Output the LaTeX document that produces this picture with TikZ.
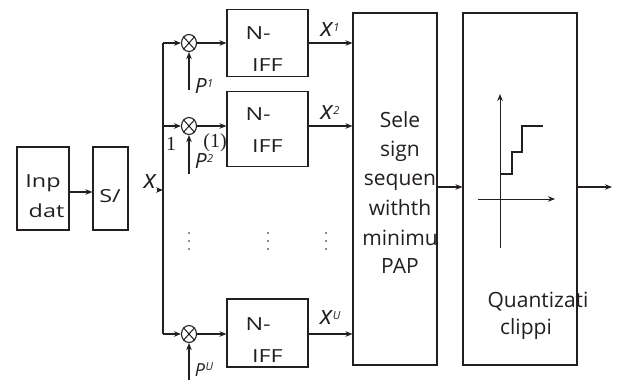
\documentclass[tikz,border=0pt]{standalone}
\usepackage{fontspec}
\setmainfont{Open Sans}
\newfontfamily\widefont[FakeStretch=1.3]{Open Sans}
\newfontfamily\serifnum{Liberation Serif}
\usetikzlibrary{shapes.geometric,arrows.meta}
\definecolor{ink}{HTML}{231F20}
\newcommand\symlab[3]{{\fontsize{#3}{#3}\selectfont\itshape #1}\kern0.5pt\raisebox{0.55em}{\fontsize{11}{11}\selectfont\itshape #2}}
\begin{document}
\begin{tikzpicture}[x=1pt,y=-1pt,line width=1.1pt,draw=ink,text=ink,
  box/.style={draw,rectangle,inner sep=0pt},
  arr/.style={-{Stealth[length=7pt,width=5.5pt]}},
  mix/.style={draw,ellipse,minimum width=15pt,minimum height=17pt,inner sep=0pt},
  lbl/.style={font=\fontsize{21}{24}\selectfont,inner sep=0pt},
  wlbl/.style={font=\widefont\fontsize{18}{22}\selectfont,inner sep=0pt},
  mlbl/.style={inner sep=0pt},
  snum/.style={font=\serifnum\fontsize{20}{22}\selectfont,inner sep=0pt}]
\useasboundingbox (0,0) rectangle (618,381);
% boxes
\node[box,minimum width=52pt,minimum height=83pt] (inp) at (43,188.5) {};
\node[box,minimum width=35pt,minimum height=83pt] (sp) at (110.5,188.5) {};
\node[box,minimum width=81pt,minimum height=67pt] (f1) at (267.5,43) {};
\node[box,minimum width=81pt,minimum height=75pt] (f2) at (267.5,129.2) {};
\node[box,minimum width=81pt,minimum height=68pt] (f3) at (267.5,333) {};
\node[box,minimum width=84pt,minimum height=352pt] (sel) at (395,189) {};
\node[box,minimum width=114pt,minimum height=352pt] (qc) at (520,189) {};
% texts
\node[wlbl,anchor=base] (t1) at (43,187) {Inp};
\node[wlbl,anchor=base] (t2) at (46.5,217) {dat};
\node[wlbl,anchor=base] (t3) at (110,202) {S/};
\foreach \n/\b in {1/39,2/120,3/330}{
  \node[wlbl,anchor=base west] (n\n) at (245,\b) {N-};
  \node[wlbl,anchor=base west] (i\n) at (251.5,\b+32) {IFF};
}
\foreach \s/\y [count=\k] in {Sele/127,sign/156,sequen/185,withth/215,minimu/245,PAP/273}{
  \node[lbl,anchor=base] (s\k) at (400,\y) {\s};
}
\node[lbl,anchor=base] (q1) at (538,307) {Quantizati};
\node[lbl,anchor=base] (q2) at (526,334) {clippi};
% mixers
\foreach \k/\y in {1/43,2/126,3/334}{
  \node[mix] (m\k) at (189,\y) {};
  \draw[line width=1pt] (m\k.north west) -- (m\k.south east) (m\k.north east) -- (m\k.south west);
}
% bus
\coordinate (b1) at (163,43);
\coordinate (b2) at (163,126);
\coordinate (b3) at (163,334);
\coordinate (bx) at (163,190);
\coordinate (xa) at (157,190);
\draw (b1) -- (b3);
\node[mlbl] (xin) at (150,182) {\symlab{x}{}{26}};
\draw[arr] (inp.east |- 0,192) -- (sp.west |- 0,192);
\draw[arr] (xa) -- (bx);
\draw[arr] (b1) -- (m1.west);
\draw[arr] (b2) -- (m2.west);
\draw[arr] (b3) -- (m3.west);
\draw[arr] (m1.east) -- (m1.east -| f1.west);
\draw[arr] (m2.east) -- (m2.east -| f2.west);
\draw[arr] (m3.east) -- (m3.east -| f3.west);
\draw[arr] (f1.east |- m1.east) -- (m1.east -| sel.west);
\draw[arr] (f2.east |- m2.east) -- (m2.east -| sel.west);
\draw[arr] (f3.east |- m3.east) -- (m3.east -| sel.west);
\node[mlbl] (x1) at (330,30) {\symlab{x}{1}{26}};
\node[mlbl] (x2) at (330,113) {\symlab{x}{2}{26}};
\node[mlbl] (x3) at (330,318) {\symlab{x}{U}{26}};
% phase inputs
\coordinate (p1) at (189,90);
\coordinate (p2) at (189,174);
\coordinate (p3) at (189,380);
\draw[arr] (p1) -- (m1.south);
\draw[arr] (p2) -- (m2.south);
\draw[arr] (p3) -- (m3.south);
\node[mlbl,anchor=base] (pl1) at (204,93) {\symlab{P}{1}{21}};
\node[mlbl,anchor=base] (pl2) at (204,168) {\symlab{P}{2}{21}};
\node[mlbl,anchor=base] (pl3) at (204,376) {\symlab{P}{U}{18}};
\node[snum] (one) at (171,144) {1};
\node[snum] (onep) at (215,143) {(1)};
% dots
\foreach \x in {189,268,326}{
  \foreach \y in {233,241,249}{
    \fill[ink] (\x,\y) circle (0.9pt);
  }
}
% output arrows
\draw[arr] (sel.east |- 0,187) -- (qc.west |- 0,187);
\coordinate (out) at (612,187);
\draw[arr] (qc.east |- out) -- (out);
% quantizer graph
\draw[arr,line width=0.9pt] (500,248) -- (500,94);
\draw[arr,line width=0.9pt] (478,199) -- (555,199);
\draw[line width=1.8pt] (501,174) -| (512,152) -| (522,126) -- (543,126);
\end{tikzpicture}
\end{document}
